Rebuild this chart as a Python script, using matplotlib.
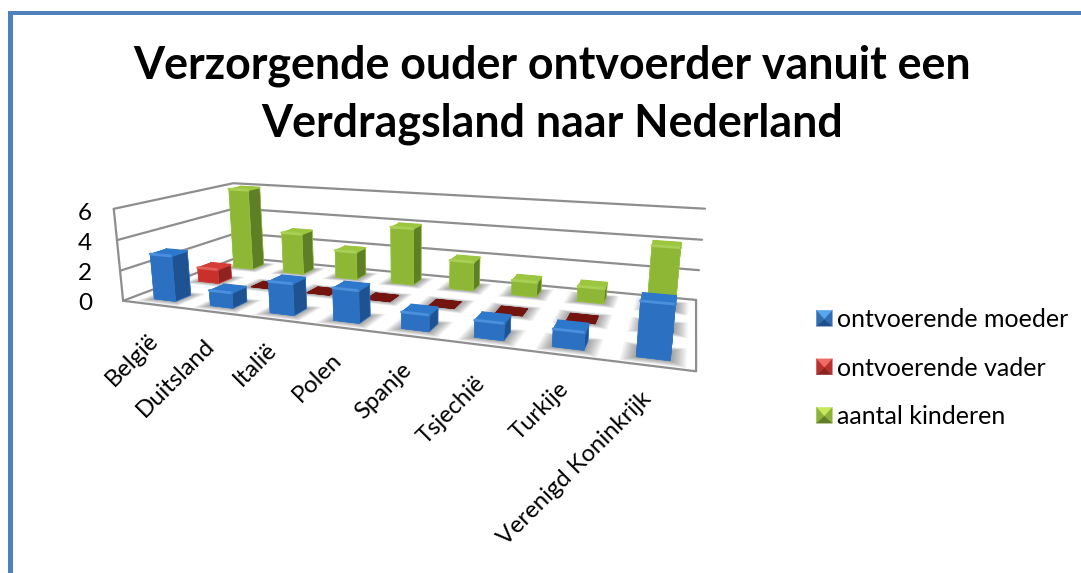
import numpy as np
import matplotlib
matplotlib.use("Agg")
import matplotlib.pyplot as plt
from matplotlib.legend_handler import HandlerBase
from matplotlib.patches import Patch, Polygon, Rectangle
from mpl_toolkits.mplot3d.art3d import Poly3DCollection

categories = ["België", "Duitsland", "Italië", "Polen", "Spanje", "Tsjechië", "Turkije", "Verenigd Koninkrijk"]
moeder = [3, 1, 2, 2, 1, 1, 1, 3]
vader = [1, 0, 0, 0, 0, 0, 0, 0]
kinderen = [6, 3, 2, 4, 2, 1, 1, 4]
series_names = ["ontvoerende moeder", "ontvoerende vader", "aantal kinderen"]
y_ticks = [0, 2, 4, 6]
title_lines = ["Verzorgende ouder ontvoerder vanuit een", "Verdragsland naar Nederland"]

W, H = 1081, 573
plt.rcParams["font.family"] = ["Lato", "DejaVu Sans"]
fig = plt.figure(figsize=(W / 100, H / 100), dpi=100, facecolor="white")

# Frame
fig.add_artist(Rectangle((8 / W, 0), 4.5 / W, 1 - 11 / H, transform=fig.transFigure, color="#4F81BD", lw=0))
fig.add_artist(Rectangle((8 / W, 1 - 14.5 / H), 1 - 8 / W, 3.5 / H, transform=fig.transFigure, color="#4F81BD", lw=0))

# Square 3-D axes covering the figure; camera fitted to the chart's box
ax = fig.add_axes([0, 0.5 - W / H / 2, 1, W / H], projection="3d", computed_zorder=False)
ax.set_axis_off()
ax.patch.set_visible(False)
ax.apply_aspect()

n_cat, n_ser, z_max = len(categories), 3, y_ticks[-1]
world = np.array([[0, 0, 0], [0, 0, 2], [0, 0, 4], [0, 0, 6], [0, 3, 0], [0, 3, 6],
                  [8, 3, 0], [8, 3, 2], [8, 3, 4], [8, 3, 6], [8, 0, 0]], float)
pix = np.array([[123, 301], [120, 270], [117, 240], [114, 209], [238, 258], [233, 183],
                [696, 299], [699, 270], [702, 240], [705, 209], [696, 372]], float)
rows, rhs = [], []
for (X, Y, Z), (u, v) in zip(world, pix):
    rows.append([X, Y, Z, 1, 0, 0, 0, 0, -u * X, -u * Y, -u * Z]); rhs.append(u)
    rows.append([0, 0, 0, 0, X, Y, Z, 1, -v * X, -v * Y, -v * Z]); rhs.append(v)
h = np.linalg.lstsq(np.array(rows), np.array(rhs), rcond=None)[0]
P = np.array([h[:4], h[4:8], [*h[8:], 1.0]])
inv = ax.transData.inverted()
d0 = inv.transform((0, H)); d1 = inv.transform((W, 0))
ax_x = (d1[0] - d0[0]) / W; ax_y = (d1[1] - d0[1]) / H
row_x = ax_x * P[0] + d0[0] * P[2]
row_y = ax_y * P[1] + d0[1] * P[2]
M = np.vstack([row_x, row_y, [0, 0, 0, -1.0], P[2]])
ax.get_proj = lambda: M

GRID = "#8E8E8E"
def line3(xs, ys, zs, z=1):
    ax.plot(xs, ys, zs, color=GRID, lw=1.6, zorder=z, solid_capstyle="round")

for t in y_ticks:
    line3([0, 0, n_cat], [0, n_ser, n_ser], [t, t, t])
line3([0, 0], [0, 0], [0, z_max])
line3([0, n_cat, n_cat], [0, 0, n_ser], [0, 0, 0])

palette = {
    0: dict(front="#2C70C2", side="#1F5290", top="#2E78CC", hi="#4A90DC"),
    1: dict(front="#C9302C", side="#8E2320", top="#D63C38", hi="#E0605A"),
    2: dict(front="#8DB735", side="#5F7F26", top="#9CC63F", hi="#AACF55"),
}
FLAT = "#74140F"
bar_w, bar_d = 0.385, 0.36
x_start, x_step = 0.56, 0.995
y_pos = [0.42, 1.5, 2.5]
values = [moeder, vader, kinderen]

z = 5
rings = np.linspace(0.18, 0.01, 12)
for j in (2, 1, 0):
    for i in range(n_cat):
        x0, y0 = x_start + i * x_step - bar_w / 2, y_pos[j] - bar_d / 2
        for g in rings:
            poly = [(x0 - g, y0 - g, 0), (x0 + bar_w + g, y0 - g, 0),
                    (x0 + bar_w + g, y0 + bar_d + g * 0.8, 0), (x0 - g, y0 + bar_d + g * 0.8, 0)]
            c = Poly3DCollection([poly], facecolors=(0, 0, 0, 0.036), edgecolors="none", zorder=z)
            ax.add_collection3d(c)
z = 10
for j in (2, 1, 0):
    for i in range(n_cat):
        v = values[j][i]
        x0, y0 = x_start + i * x_step - bar_w / 2, y_pos[j] - bar_d / 2
        p = palette[j]
        faces = [FLAT] * 6 if v == 0 else [p["side"], p["top"], p["front"], p["side"], p["side"], p["side"]]
        ax.bar3d(x0, y0, 0, bar_w, bar_d, max(v, 0.02), color=faces, shade=False, zorder=z,
                 edgecolor=faces[1] if v else FLAT, linewidth=0.4)
        z += 1
        if v:
            ax.plot([x0, x0 + bar_w], [y0, y0], [v, v], color=p["hi"], lw=2.0, zorder=z, solid_capstyle="round")
            ax.plot([x0, x0 + bar_w, x0 + bar_w], [y0 + bar_d, y0 + bar_d, y0], [v, v, v], color=p["top"], lw=1.2, zorder=z)
            z += 1

# y tick labels
for t, py in zip(y_ticks, [304, 274, 244, 213]):
    fig.text(92 / W, 1 - py / H, str(t), ha="right", va="center", fontsize=17.5, color="black")

# category labels
label_ends = [(147, 330), (204, 335), (266, 339), (331, 349), (401, 359), (474, 373), (558, 378), (640, 388)]
for name, (px, py) in zip(categories, label_ends):
    fig.text(px / W, 1 - py / H, name, rotation=45, rotation_mode="anchor", ha="right", va="top",
             fontsize=17.2, color="black")

for line, py in zip(title_lines, [66, 124]):
    fig.text(552 / W, 1 - py / H, line, ha="center", va="center", fontsize=32.2, fontweight="bold", color="black")

class Pyramid(HandlerBase):
    def __init__(self, shades):
        super().__init__()
        self.shades = shades
    def create_artists(self, legend, orig, xd, yd, width, height, fontsize, trans):
        s = 11.5
        x0, y0 = (width - s) / 2 - xd, (height - s) / 2 - yd
        a, b, c, d = (x0, y0), (x0 + s, y0), (x0 + s, y0 + s), (x0, y0 + s)
        m = (x0 + s / 2, y0 + s * 0.45)
        top, mid, bot = self.shades
        return [Polygon(pts, closed=True, facecolor=col, edgecolor=col, lw=0.2, transform=trans)
                for pts, col in (([d, c, m], top), ([a, d, m], mid), ([b, c, m], mid), ([a, b, m], bot))]

shades = [("#57A6F0", "#2F6DB5", "#1E4F8A"), ("#F06A66", "#BB2F2B", "#8A2320"), ("#C8E85A", "#8CB336", "#5F7F26")]
handles = [Patch(label=n) for n in series_names]
leg = fig.legend(handles=handles, labels=series_names, loc="upper left",
                 bbox_to_anchor=(805 / W, 1 - 298 / H), frameon=False, fontsize=18,
                 handlelength=0.75, handletextpad=0.12, labelspacing=1.02, borderpad=0.4, borderaxespad=0,
                 handler_map={h_: Pyramid(s) for h_, s in zip(handles, shades)})

fig.savefig("out.png", dpi=100)
